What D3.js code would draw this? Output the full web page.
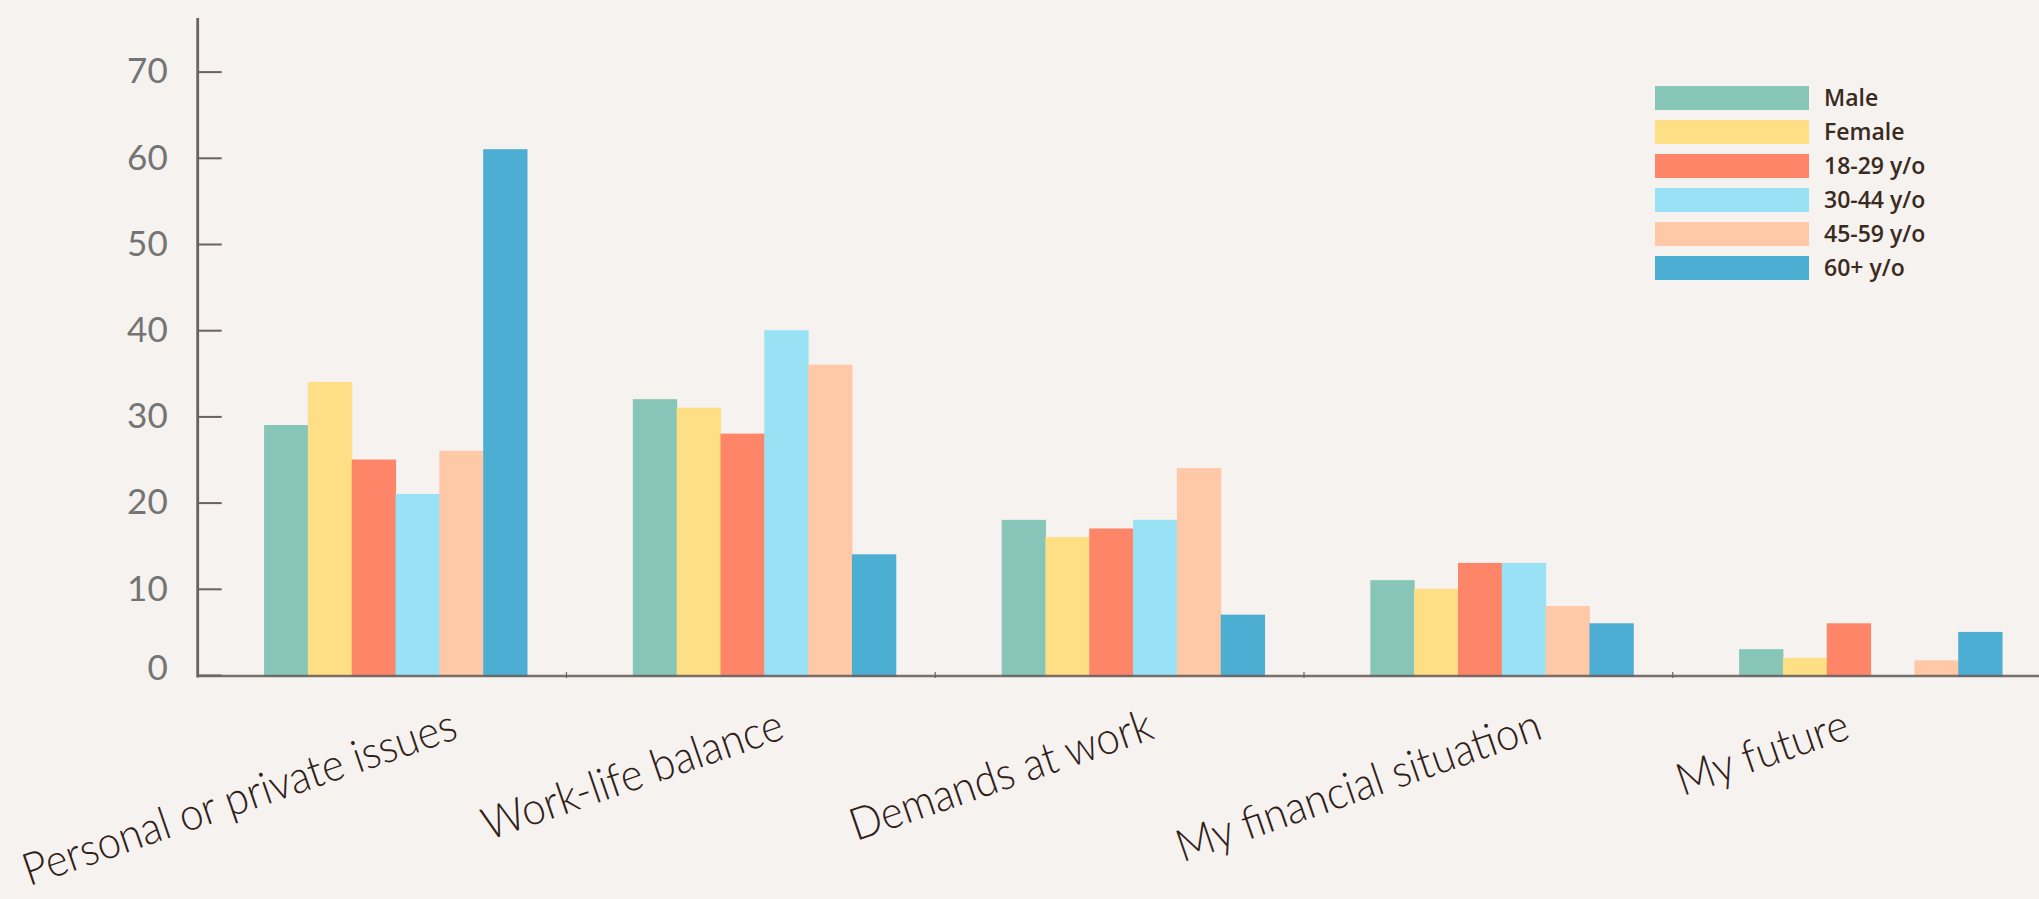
<!DOCTYPE html>
<html>
<head>
<meta charset="utf-8">
<script src="https://cdn.jsdelivr.net/npm/d3@7"></script>
<style>
  html, body { margin: 0; padding: 0; background: #f6f2ef; }
  svg { display: block; }
</style>
</head>
<body>
<div id="chart"></div>
<script>
// categories on the x axis
var categories = ["Personal or private issues", "Work-life balance", "Demands at work", "My financial situation", "My future"];
// one array per group (percent)
var groups = ["Male", "Female", "18-29 y/o", "30-44 y/o", "45-59 y/o", "60+ y/o"];
var male = [29, 32, 18, 11, 3];
var female = [34, 31, 16, 10, 2];
var age18 = [25, 28, 17, 13, 6];
var age30 = [21, 40, 18, 13, 0];
var age45 = [26, 36, 24, 8, 1.7];
var age60 = [61, 14, 7, 6, 5];
var yTicks = [0, 10, 20, 30, 40, 50, 60, 70];
var colors = ["#88c5b9", "#ffdf85", "#ff8569", "#99e2f6", "#ffc8a6", "#4daed3"];

var series = [male, female, age18, age30, age45, age60];

var width = 2039, height = 899;
var left = 197.7, bottom = 675;

var svg = d3.select("#chart").append("svg")
    .attr("width", width)
    .attr("height", height)
    .style("background", "#f6f2ef");

// scales
var x0 = d3.scaleBand().domain(categories).range([left, 2041.5]).padding(0);
var bw = x0.bandwidth();
var x1 = d3.scaleBand().domain(groups).range([bw * 0.18, bw * 0.893]).padding(0);
var y = d3.scaleLinear().domain([0, 70]).range([bottom, 71.6]);
var color = d3.scaleOrdinal().domain(groups).range(colors);

// build table for the bars
var data = [];
categories.forEach(function (c, i) {
    groups.forEach(function (g, j) {
        data.push({ cat: c, group: g, value: series[j][i] });
    });
});

// bars
svg.append("g").selectAll("rect")
    .data(data)
    .enter().append("rect")
    .attr("x", function (d) { return x0(d.cat) + x1(d.group); })
    .attr("y", function (d) { return y(d.value); })
    .attr("width", x1.bandwidth() + 0.5)
    .attr("height", function (d) { return y(0) - y(d.value) + 2; })
    .attr("fill", function (d) { return color(d.group); });

// y axis
var yAxis = d3.axisLeft(y).tickValues(yTicks).tickSize(-24).tickPadding(30);
var gy = svg.append("g")
    .attr("transform", "translate(" + left + ",0)")
    .call(yAxis);
gy.select(".domain").remove();
gy.selectAll(".tick line").attr("stroke", "#6b625f").attr("stroke-width", 2);
gy.selectAll(".tick text")
    .attr("fill", "#747474")
    .style("font-family", "Lato, 'Open Sans', sans-serif")
    .style("font-weight", 400)
    .style("font-size", "35px");
// the zero label sits a little higher
gy.selectAll(".tick text").filter(function (d) { return d === 0; }).attr("dy", "0.12em");

svg.append("line")
    .attr("x1", left).attr("x2", left)
    .attr("y1", 18).attr("y2", bottom + 2.5)
    .attr("stroke", "#6b625f").attr("stroke-width", 2.8);

// x axis line and boundary ticks
svg.append("line")
    .attr("x1", left).attr("x2", width)
    .attr("y1", bottom + 1).attr("y2", bottom + 1)
    .attr("stroke", "#6b625f").attr("stroke-opacity", 0.9).attr("stroke-width", 2.4);

svg.append("g").selectAll("line")
    .data(categories.slice(1))
    .enter().append("line")
    .attr("x1", function (d) { return x0(d); })
    .attr("x2", function (d) { return x0(d); })
    .attr("y1", bottom - 3).attr("y2", bottom + 3)
    .attr("stroke", "#6b625f").attr("stroke-width", 1.2);

// category labels, rotated and a bit condensed
var squeeze = 0.93;
svg.append("g").selectAll("text")
    .data(categories)
    .enter().append("text")
    .text(function (d) { return d; })
    .attr("text-anchor", "end")
    .attr("fill", "#2f2019")
    .style("font-family", "Lato, 'Open Sans', sans-serif")
    .style("font-weight", 300)
    .style("font-size", "45px")
    .each(function (d) {
        var len = this.getComputedTextLength() * squeeze;
        var ex = x0(d) + bw / 2 + 0.3 * len - 59;
        var ey = bottom + 63;
        d3.select(this).attr("transform",
            "translate(" + ex + "," + ey + ") rotate(-19) scale(" + squeeze + ",1)");
    });

// legend
var legend = svg.append("g").attr("transform", "translate(1655,86)");
var item = legend.selectAll("g")
    .data(groups)
    .enter().append("g")
    .attr("transform", function (d, i) { return "translate(0," + i * 34 + ")"; });

item.append("rect")
    .attr("width", 154)
    .attr("height", 24)
    .attr("fill", function (d) { return color(d); });

item.append("text")
    .attr("x", 169)
    .attr("y", 20)
    .text(function (d) { return d; })
    .attr("fill", "#3a2a20")
    .style("font-family", "'Open Sans', sans-serif")
    .style("font-weight", 600)
    .style("font-size", "23px");
</script>
</body>
</html>
